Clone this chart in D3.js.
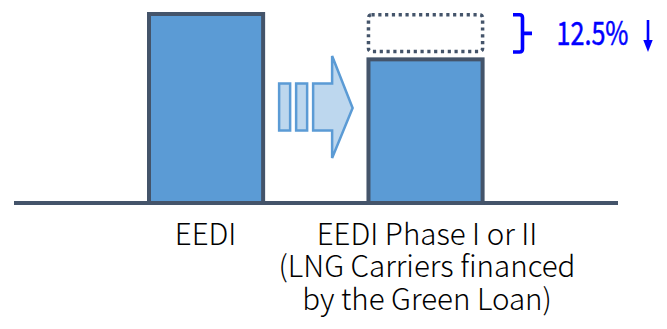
<!DOCTYPE html>
<html><head><meta charset="utf-8">
<script src="https://cdn.jsdelivr.net/npm/d3@7"></script>
<style>body{margin:0;background:#fff}svg{display:block}</style>
</head><body>
<svg id="c" width="667" height="329"></svg>
<script>
const categories = ["EEDI", "EEDI Phase I or II"];
const labelLines = [["EEDI"], ["EEDI Phase I or II", "(LNG Carriers financed", "by the Green Loan)"]];
const values = [100, 76];
const reductionRange = [100, 80];
const reductionLabel = "12.5%";

const svg = d3.select("#c");
const FONT = "'Noto Sans CJK KR', 'Noto Sans', sans-serif";
const dark = "#44546A", fill = "#5B9BD5", light = "#BDD7EE", blue = "#0000FF";

const y = d3.scaleLinear().domain([0, 100]).range([203, 14]);
const x = d3.scaleBand().domain(categories).range([149, 482.6]).paddingInner(0.48).paddingOuter(0);

// baseline
svg.append("line").attr("x1", 14).attr("x2", 618).attr("y1", y(0)).attr("y2", y(0))
  .attr("stroke", dark).attr("stroke-width", 4);

// bars
svg.selectAll("rect.bar").data(values).join("rect").attr("class", "bar")
  .attr("x", (d, i) => x(categories[i]))
  .attr("y", d => y(d))
  .attr("width", x.bandwidth())
  .attr("height", d => y(0) - y(d))
  .attr("fill", fill).attr("stroke", dark).attr("stroke-width", 4);

// dotted box
const b2 = x(categories[1]);
svg.append("rect")
  .attr("x", b2).attr("y", y(reductionRange[0]) + 0.7)
  .attr("width", x.bandwidth()).attr("height", y(reductionRange[1]) - y(reductionRange[0]) - 1)
  .attr("rx", 3)
  .attr("fill", "none").attr("stroke", dark).attr("stroke-width", 3.5)
  .attr("stroke-dasharray", "3.2,3.6");

// arrow
const b1end = x(categories[0]) + x.bandwidth();
const ax = b1end + 15, acy = 107;
const g = svg.append("g").attr("fill", light).attr("stroke", fill).attr("stroke-width", 2.5);
g.append("rect").attr("x", ax + 1).attr("y", acy - 23.5).attr("width", 11).attr("height", 47);
g.append("rect").attr("x", ax + 18).attr("y", acy - 23.5).attr("width", 11).attr("height", 47);
const bx = ax + 35;
g.append("path").attr("stroke-linejoin", "miter").attr("d",
  `M${bx},${acy - 23.5} L${bx + 19},${acy - 23.5} L${bx + 19},${acy - 51} L${bx + 39.5},${acy + 1}` +
  ` L${bx + 19},${acy + 51} L${bx + 19},${acy + 23.5} L${bx},${acy + 23.5} Z`);

// bracket
const bt = y(reductionRange[0]) + 0.7, bb = y(reductionRange[1]) + 0.2, bm = (bt + bb) / 2;
const bxL = 513, bxV = 522.5;
svg.append("path").attr("fill", "none").attr("stroke", blue).attr("stroke-width", 3.6)
  .attr("d", `M${bxL},${bt} L${bxV - 3},${bt} Q${bxV},${bt} ${bxV},${bt + 3} L${bxV},${bb - 3} Q${bxV},${bb} ${bxV - 3},${bb} L${bxL},${bb}` +
    ` M${bxV},${bm} L${bxV + 9.5},${bm}`);

// percent label
svg.append("text").attr("x", 556.5).attr("y", 45).text(reductionLabel)
  .attr("font-family", FONT).attr("font-size", 32.5).attr("fill", blue)
  .attr("stroke", blue).attr("stroke-width", 0.5)
  .attr("textLength", 72).attr("lengthAdjust", "spacingAndGlyphs");

// down arrow
svg.append("line").attr("x1", 648).attr("x2", 648).attr("y1", 20).attr("y2", 46)
  .attr("stroke", blue).attr("stroke-width", 2.6);
svg.append("path").attr("fill", blue).attr("d", "M643.3,40 L652.7,40 L648,52 Z");

// category labels
labelLines.forEach((lines, i) => {
  const cx = x(categories[i]) + x.bandwidth() / 2 + (i === 1 ? 1.5 : -0.5);
  const t = svg.append("text").attr("text-anchor", "middle")
    .attr("font-family", FONT).attr("font-size", 29.5).attr("font-weight", 300).attr("fill", "#000");
  lines.forEach((s, j) => {
    t.append("tspan").attr("x", cx).attr("y", 244.5 + j * 32.5).text(s);
  });
});
</script>
</body></html>
